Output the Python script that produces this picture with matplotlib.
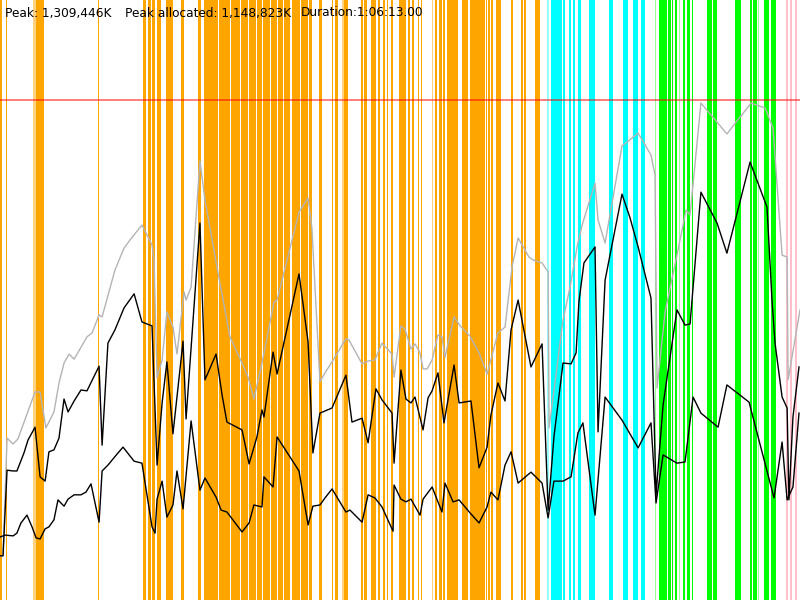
import matplotlib
matplotlib.use("Agg")
import matplotlib.pyplot as plt
import numpy as np

# ---------------- data ----------------
DURATION_S = 3973            # 1:06:13
PEAK_K = 1309446
PEAK_ALLOC_K = 1148823
PEAK_MB = PEAK_K / 1024.0

header_texts = ["Peak: 1,309,446K", "Peak allocated: 1,148,823K", "Duration:1:06:13.00"]

# total heap (grey)
heap_t = [0, 15, 35, 65, 89, 174, 199, 228, 268, 293, 318, 343, 368, 432, 457, 492, 507, 571, 616, 646,
          705, 755, 765, 780, 805, 829, 859, 879, 914, 924, 949, 993, 1018, 1083, 1142, 1202, 1232, 1261,
          1301, 1361, 1376, 1485, 1530, 1549, 1589, 1614, 1649, 1718, 1733, 1798, 1828, 1862, 1897, 1947,
          1957, 1991, 2011, 2041, 2061, 2086, 2101, 2121, 2146, 2175, 2195, 2210, 2255, 2285, 2334, 2379,
          2419, 2473, 2508, 2543, 2573, 2627, 2647, 2692, 2722, 2727, 2796, 2831, 2866, 2891, 2955, 2970,
          3005, 3089, 3169, 3233, 3253, 3263, 3303, 3362, 3407, 3427, 3481, 3610, 3730, 3800, 3839, 3884,
          3909, 3914, 3973]
heap_mb = [113, 113, 414, 399, 412, 532, 532, 440, 481, 555, 606, 629, 616, 673, 683, 729, 724, 844, 900, 921,
           959, 908, 870, 568, 614, 737, 698, 629, 788, 767, 800, 1123, 1023, 836, 673, 606, 570, 514,
           606, 762, 767, 992, 1028, 951, 558, 581, 609, 668, 665, 604, 611, 614, 657, 629,
           570, 701, 693, 642, 655, 632, 591, 591, 614, 678, 673, 621, 724, 701, 675, 632,
           578, 683, 698, 852, 926, 877, 870, 862, 839, 440, 716, 800, 903, 959, 1066, 972,
           913, 1161, 1194, 1138, 1087, 542, 737, 882, 997, 985, 1271, 1192, 1271, 1258, 1207, 882,
           877, 563, 742]

# allocated (black, upper)
alloc_t = [0, 15, 35, 65, 84, 119, 139, 174, 199, 224, 243, 268, 293, 318, 338, 368, 402, 432, 492, 507,
           536, 571, 616, 666, 705, 755, 780, 805, 829, 859, 909, 924, 993, 1018, 1073, 1103, 1127, 1202,
           1237, 1276, 1301, 1311, 1356, 1376, 1485, 1530, 1554, 1589, 1649, 1718, 1748, 1798, 1828, 1867,
           1897, 1947, 1957, 1991, 2016, 2041, 2061, 2101, 2126, 2146, 2175, 2205, 2255, 2280, 2339, 2379,
           2419, 2438, 2473, 2508, 2538, 2573, 2637, 2692, 2722, 2751, 2796, 2836, 2861, 2875, 2900, 2955,
           2970, 3005, 3089, 3129, 3169, 3233, 3258, 3293, 3362, 3402, 3427, 3481, 3561, 3610, 3725, 3809,
           3834, 3849, 3884, 3909, 3918, 3938, 3968]
alloc_mb = [113, 113, 332, 330, 330, 376, 409, 442, 315, 304, 379, 384, 414, 514, 481, 509, 537, 535, 598, 396,
            657, 691, 747, 783, 711, 701, 345, 504, 609, 425, 662, 463, 964, 563, 629, 524, 455, 435,
            348, 417, 486, 468, 634, 578, 834, 660, 376, 478, 491, 575, 455, 465, 402, 540,
            512, 478, 350, 588, 514, 504, 519, 435, 517, 535, 581, 453, 601, 504, 509, 338,
            391, 473, 555, 509, 691, 767, 596, 655, 230, 417, 606, 604, 632, 762, 862, 903,
            430, 818, 1038, 977, 903, 772, 269, 499, 742, 703, 706, 1043, 964, 887, 1120, 1005,
            767, 657, 519, 491, 256, 468, 596]

# used after GC (black, lower)
used_t = [0, 25, 65, 84, 104, 134, 159, 179, 199, 224, 243, 268, 288, 318, 338, 368, 402, 427, 452, 492,
          507, 536, 581, 611, 666, 705, 755, 770, 780, 805, 829, 859, 879, 909, 949, 993, 1018, 1073, 1098,
          1127, 1202, 1237, 1261, 1301, 1311, 1356, 1376, 1485, 1530, 1554, 1589, 1614, 1649, 1718, 1738,
          1798, 1828, 1862, 1897, 1952, 1957, 1991, 2016, 2041, 2086, 2101, 2146, 2195, 2210, 2250, 2280,
          2334, 2379, 2419, 2438, 2473, 2508, 2538, 2573, 2637, 2692, 2722, 2751, 2796, 2836, 2870, 2895,
          2955, 3005, 3089, 3169, 3233, 3258, 3293, 3362, 3402, 3442, 3481, 3566, 3610, 3720, 3844, 3884,
          3909, 3938, 3968]
used_mb = [161, 166, 164, 171, 197, 217, 187, 159, 156, 182, 187, 205, 256, 240, 258, 269, 269, 276, 297, 199,
           330, 345, 373, 391, 355, 350, 187, 171, 258, 304, 212, 243, 330, 233, 458, 281, 312, 263, 230,
           225, 174, 197, 243, 238, 315, 289, 417, 330, 192, 240, 243, 261, 284, 225, 230,
           199, 269, 261, 238, 176, 294, 258, 251, 258, 217, 258, 289, 225, 299, 251, 256,
           223, 197, 238, 276, 256, 345, 379, 299, 327, 299, 210, 304, 304, 315, 427, 453,
           217, 519, 460, 389, 453, 248, 371, 350, 353, 519, 478, 442, 550, 506, 261, 404,
           256, 289, 478]

# GC / phase bands: start (s), end (s), kind
band_start = [0, 30, 165, 177, 487, 710, 733, 757, 782, 824, 901, 981, 1013, 1033, 1088, 1145, 1197, 1237,
              1276, 1306, 1346, 1381, 1410, 1450, 1495, 1535, 1584,
              1647, 1664, 1700, 1710, 1793, 1809, 1842, 1879, 1904, 1920, 1942, 1982, 2025, 2048, 2074,
              2091, 2144, 2160, 2180, 2200, 2220, 2294, 2334, 2414, 2424, 2438, 2463, 2538, 2587, 2602, 2657,
              2717, 2736, 2796, 2826, 2846, 2870, 2925, 3024, 3094, 3144, 3183,
              3253, 3273, 3317, 3337, 3352, 3372, 3392, 3412, 3437, 3511, 3541, 3650, 3725, 3740, 3764,
              3794, 3829,
              3903, 3923, 3948]
band_end = [10, 36, 177, 219, 494, 725, 750, 772, 800, 859, 916, 998, 1031, 1083, 1140, 1192, 1232, 1271,
            1301, 1341, 1376, 1405, 1440, 1490, 1530, 1549, 1597,
            1655, 1677, 1710, 1730, 1801, 1821, 1866, 1887, 1912, 1928, 1953, 2015, 2035, 2056, 2081,
            2094, 2152, 2172, 2194, 2210, 2274, 2324, 2409, 2419, 2433, 2448, 2488, 2548, 2597, 2612, 2682,
            2724, 2791, 2806, 2836, 2856, 2885, 2955, 3044, 3119, 3168, 3203,
            3258, 3312, 3332, 3342, 3362, 3377, 3402, 3427, 3442, 3536, 3561, 3680, 3735, 3760, 3769,
            3819, 3854,
            3911, 3933, 3958]
band_kind = ['o', 'o', 'lo', 'o', 'o', 'o', 'o', 'o', 'o', 'o', 'o', 'o', 'o', 'o', 'o', 'o', 'o', 'o',
             'o', 'o', 'o', 'o', 'o', 'o', 'o', 'o', 'o',
             'o', 'o', 'lo', 'o', 'o', 'o', 'o', 'o', 'o', 'o', 'o', 'o', 'o', 'o', 'o',
             'o', 'lo', 'o', 'o', 'o', 'o', 'o', 'o', 'o', 'o', 'o', 'o', 'o', 'o', 'o', 'o',
             'lc', 'c', 'c', 'c', 'c', 'c', 'c', 'c', 'c', 'c', 'c',
             'lg', 'g', 'g', 'g', 'g', 'lg', 'g', 'g', 'g', 'g', 'g', 'g', 'g', 'g', 'lg',
             'g', 'g',
             'p', 'p', 'p']

band_colors = {'o': '#FFA500', 'lo': '#FFD27F', 'c': '#00FFFF', 'lc': '#99FFFF',
               'g': '#00FF00', 'lg': '#99FF99', 'p': '#FFC0CB'}

assert len(heap_t) == len(heap_mb), (len(heap_t), len(heap_mb))
assert len(alloc_t) == len(alloc_mb), (len(alloc_t), len(alloc_mb))
assert len(used_t) == len(used_mb), (len(used_t), len(used_mb))
assert len(band_start) == len(band_end) == len(band_kind), (len(band_start), len(band_end), len(band_kind))

# ---------------- drawing ----------------
fig = plt.figure(figsize=(8, 6), dpi=100)
ax = fig.add_axes([0, 0, 1, 1])
ax.set_xlim(0, DURATION_S)
ax.set_ylim(0, PEAK_MB * 1.2)
ax.axis('off')

for s, e, k in zip(band_start, band_end, band_kind):
    ax.axvspan(s, e, color=band_colors[k], lw=0, zorder=1)

ax.axhline(PEAK_MB, color='red', alpha=0.55, lw=1.3, zorder=2)

ax.plot(heap_t, heap_mb, color='#B4B4B4', lw=1.0, zorder=3)
ax.plot(alloc_t, alloc_mb, color='black', lw=1.0, zorder=4)
ax.plot(used_t, used_mb, color='black', lw=1.0, zorder=4)

text_x_px = [5, 125, 301]
for txt, xp in zip(header_texts, text_x_px):
    fig.text(xp / 800, 1 - 13 / 600, txt, fontsize=8.7, va='center', ha='left',
             family='DejaVu Sans', color='black', zorder=5)

fig.savefig("out.png", dpi=100)
